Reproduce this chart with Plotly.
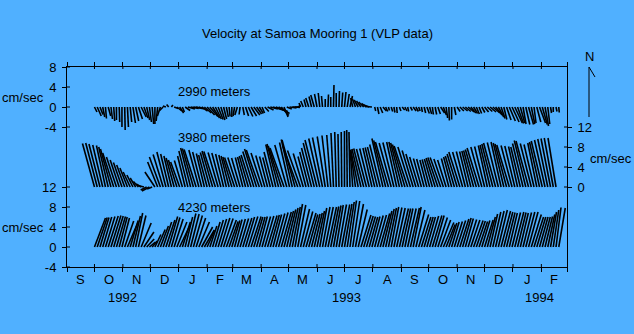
import plotly.graph_objects as go

# ---------------- data ----------------
# x axis in days since 1 Sep 1992; sticks every 3 days starting 1 Oct 1992
start_day = 30
step_days = 3

month_starts = [0, 30, 61, 91, 122, 153, 181, 212, 242, 273, 303, 334, 365, 395, 426, 456, 487, 518, 546]
month_mid = [15, 45.5, 76, 106.5, 137.5, 167, 196.5, 227, 257.5, 288, 318.5, 349.5, 380, 410.5, 441, 471.5, 502.5, 532]
month_labels = ["S", "O", "N", "D", "J", "F", "M", "A", "M", "J", "J", "A", "S", "O", "N", "D", "J", "F"]
year_labels = ["1992", "1993", "1994"]
year_pos = [61, 305.7, 516.5]

depth_labels = ["2990 meters", "3980 meters", "4230 meters"]

# 2990 m (east u, north v, cm/s)
u2990 = [0.5,0.8,0.6,0.4,0.2,0.5,0.3,0.2,0.0,0.1,
         0.0,0.1,0.2,0.3,0.5,0.6,0.8,1.0,0.8,0.6,
         0.4,0.3,0.0,-0.3,-0.6,-0.8,-0.6,-0.4,0.3,0.8,
         1.0,0.8,0.4,1.0,1.4,1.6,1.5,1.2,1.0,1.2,
         1.4,1.5,1.6,1.4,1.2,1.0,0.8,0.6,0.4,0.2,
         0.0,-0.3,-0.5,-0.2,0.3,0.6,0.9,1.1,1.2,1.0,
         0.8,0.5,0.8,1.2,1.5,2.0,2.4,2.2,1.5,0.8,
         1.0,1.4,1.5,1.0,0.6,-0.3,-0.5,-0.4,-0.6,-0.5,
         -0.7,-0.5,-0.3,-0.2,0.0,0.1,0.0,0.1,0.0,0.1,
         0.2,0.3,0.4,0.5,-0.4,-0.6,-0.8,-0.9,-1.0,-1.0,
         -1.1,-1.2,0.2,0.3,0.5,0.7,0.4,0.2,0.3,0.2,
         0.1,0.3,0.5,0.4,0.2,0.4,0.6,0.5,0.3,0.2,
         0.3,0.5,0.4,0.2,0.3,0.5,0.8,0.6,0.3,0.1,
         0.0,0.3,0.6,0.8,1.0,1.1,1.2,1.0,0.8,0.6,
         0.5,0.6,0.8,1.0,1.2,1.4,1.3,1.1,0.8,0.6,
         0.9,1.2,1.4,1.5,1.2,0.9,0.6,0.8,1.0,0.7,
         0.4,0.8,1.2,1.0,0.7,0.4,0.2,0.0,0.2,0.1]
v2990 = [-1.0,-1.8,-1.5,-2.0,-2.3,-1.8,-2.4,-2.8,-2.6,-3.0,
         -4.0,-4.6,-4.0,-3.0,-3.2,-2.8,-2.4,-2.0,-2.2,-2.6,
         -3.0,-3.4,-3.4,-2.8,-1.8,-0.8,0.2,0.5,0.4,-0.3,
         -0.8,-1.2,-1.0,-0.7,-0.4,-0.3,-0.2,-0.3,-0.4,-0.8,
         -1.2,-1.6,-1.9,-2.2,-2.4,-2.5,-2.6,-2.4,-2.0,-1.9,
         -2.0,-1.8,-1.6,-1.5,-1.6,-1.8,-1.9,-1.8,-1.6,-1.4,
         -1.3,-1.2,-0.9,-0.6,-0.4,-0.6,-0.9,-1.3,-1.7,-2.0,
         -0.4,-0.2,0.0,-0.1,0.3,0.8,1.2,1.5,1.8,2.1,
         2.4,2.6,2.8,2.2,1.6,2.5,2.0,4.4,2.8,3.2,
         2.9,3.0,2.6,2.2,1.8,1.6,1.4,1.2,1.0,0.7,
         0.4,0.1,-0.8,-1.4,-1.2,-0.8,-0.9,-0.7,-0.9,-1.1,
         -1.2,-0.8,-0.6,-0.8,-0.9,-0.7,-0.8,-0.9,-0.8,-1.0,
         -1.2,-1.3,-1.4,-1.5,-1.5,-1.4,-1.2,-1.6,-2.2,-2.7,
         -2.5,-1.6,-0.9,-0.8,-0.8,-0.9,-1.0,-1.2,-1.3,-1.4,
         -1.3,-1.1,-1.0,-0.9,-1.0,-1.2,-1.6,-2.0,-2.3,-2.5,
         -2.6,-2.8,-3.0,-3.2,-3.3,-3.2,-3.4,-3.5,-3.5,-3.4,
         -3.2,-3.0,-3.2,-3.5,-3.8,-3.4,-1.2,-1.0,-0.9,-1.1]

# 3980 m
u3980 = [-2.4,-2.3,-2.2,-2.0,-1.8,-1.9,-2.1,-2.2,-2.0,-1.8,
         -1.7,-1.6,-1.5,-1.4,-1.2,-1.1,-1.0,-1.0,-1.2,-1.2,
         -1.5,-1.0,-2.0,-2.0,-2.2,-2.0,-1.8,-1.6,-1.5,-1.6,
         -1.7,-1.8,-1.6,-1.5,-1.8,-2.0,-2.2,-2.4,-2.0,-1.8,
         -1.6,-1.7,-1.9,-2.1,-2.3,-2.0,-1.8,-1.6,-1.5,-1.6,
         -1.8,-2.0,-1.9,-1.7,-1.5,-1.6,-1.8,-2.0,-2.2,-2.4,
         -2.6,-2.2,-1.8,-1.6,-1.5,-1.8,-2.0,-2.3,-2.6,-2.8,
         -2.4,-2.0,-2.2,-2.6,-3.0,-2.6,-2.0,-1.6,-1.8,-2.0,
         -2.2,-2.4,-2.2,-2.0,-1.6,-1.2,-0.8,-0.5,-0.3,-0.2,
         -0.1,0.0,-0.1,-0.2,-0.5,-1.0,-1.5,-1.8,-2.0,-2.0,
         -1.9,-1.8,-1.9,-2.0,-2.1,-2.2,-2.4,-2.6,-2.4,-2.2,
         -2.0,-2.1,-2.3,-2.5,-2.7,-2.5,-2.2,-2.0,-1.8,-1.6,
         -1.5,-1.4,-1.5,-1.6,-1.8,-2.0,-2.1,-1.9,-1.7,-1.5,
         -1.6,-1.8,-2.0,-2.2,-2.0,-1.8,-1.7,-1.8,-2.0,-2.2,
         -2.4,-2.2,-2.0,-1.8,-2.0,-2.2,-2.4,-2.2,-2.0,-2.1,
         -2.3,-2.5,-2.2,-2.0,-1.8,-1.9,-2.1,-2.3,-2.5,-2.2,
         -2.0,-1.8,-2.0,-2.2,-2.1,-2.0,-1.9,-1.8,-1.6]
v3980 = [8.7,8.8,8.6,8.4,8.3,8.0,7.6,6.8,6.0,5.4,
         4.9,4.4,3.8,3.0,2.4,1.8,1.1,0.6,0.3,-0.6,
         -0.8,-0.4,3.0,5.0,6.0,6.5,7.0,6.6,6.2,5.8,
         5.4,5.0,5.3,6.2,7.2,7.8,7.7,7.5,7.4,7.0,
         6.7,6.4,6.9,7.2,7.1,6.9,6.8,6.6,6.4,6.2,
         6.0,5.9,5.9,5.8,5.9,6.0,6.2,6.4,7.1,7.6,
         7.4,6.8,6.3,6.1,5.9,7.0,8.5,8.6,8.2,7.8,
         8.4,8.9,9.5,9.4,8.2,7.3,6.7,6.1,7.0,7.8,
         8.8,9.4,9.7,9.9,10.1,10.3,10.4,10.8,11.0,10.6,
         11.0,11.2,11.4,11.0,7.2,7.4,7.5,7.6,7.7,7.6,
         7.7,7.8,7.9,8.0,8.5,9.7,9.3,9.0,8.8,8.9,
         9.0,9.0,8.8,8.5,8.2,8.0,7.3,6.6,6.0,5.7,
         5.6,5.4,5.5,5.6,5.8,5.9,5.9,5.6,5.4,5.7,
         6.0,6.2,6.6,7.0,7.0,7.1,7.1,7.2,7.3,7.5,
         7.8,8.0,8.1,8.3,8.4,8.6,8.8,8.9,9.0,8.8,
         8.6,8.4,8.3,8.2,8.1,8.0,8.7,9.3,9.2,8.7,
         8.5,8.8,9.0,9.2,9.4,9.6,9.7,9.8,9.8]

# 4230 m
u4230 = [2.2,2.0,1.8,1.8,1.9,2.0,2.0,1.9,1.8,1.6,
         1.5,1.8,2.0,1.6,1.5,1.4,1.5,2.0,2.0,1.5,
         1.2,1.0,1.2,1.5,1.6,1.7,1.8,1.8,1.7,1.8,
         2.0,2.0,1.6,1.5,1.6,1.7,1.8,1.9,2.1,2.2,
         2.0,1.5,1.4,1.5,1.6,1.7,1.8,1.9,2.0,1.8,
         1.6,1.5,1.6,1.7,1.8,1.8,1.9,2.0,1.8,1.7,
         1.6,1.7,1.8,1.9,1.8,1.7,1.8,1.9,2.0,1.9,
         1.8,1.7,1.6,1.5,1.6,1.8,1.9,2.0,1.8,1.7,
         1.6,1.5,1.4,1.5,1.6,1.7,1.6,1.5,1.4,1.5,
         1.6,1.5,1.4,1.3,1.4,1.6,1.8,2.0,1.9,1.8,
         1.7,1.6,1.7,1.8,1.9,1.8,1.7,1.6,1.5,1.6,
         1.7,1.8,1.7,1.6,1.7,1.8,1.6,1.8,2.0,1.9,
         1.8,1.7,1.8,1.9,1.8,1.9,2.0,2.1,1.8,1.6,
         1.5,1.6,1.7,1.8,1.7,1.6,1.7,1.8,1.9,1.8,
         1.7,1.6,1.7,1.6,1.5,1.6,1.7,1.8,1.9,1.8,
         1.7,1.6,1.7,1.8,1.7,1.6,1.7,1.8,1.9,2.0,
         1.9,1.8,1.7,1.6,1.5,1.4,1.2,1.1,1.0,1.3]
v4230 = [5.8,5.9,5.9,6.0,6.1,6.2,6.3,6.2,6.1,6.0,
         5.8,5.2,4.7,5.3,6.2,6.8,6.3,4.8,3.0,1.6,
         1.0,1.2,2.5,3.5,4.2,5.0,5.4,6.1,5.9,5.6,
         5.0,4.2,5.0,6.0,6.7,6.6,6.3,5.8,5.0,4.0,
         3.4,3.3,4.2,5.0,5.4,5.6,5.8,5.7,5.4,5.1,
         5.3,5.5,5.6,5.7,5.8,6.0,6.1,6.1,6.0,6.0,
         6.1,6.1,6.2,6.3,6.4,6.5,6.7,6.9,7.0,7.2,
         7.5,7.8,8.0,8.6,8.4,7.6,7.1,6.8,6.5,6.6,
         6.8,7.2,7.8,8.0,8.0,8.0,8.1,8.3,8.4,8.5,
         8.5,8.6,9.0,9.3,9.2,8.6,7.5,6.4,6.2,6.1,
         6.0,6.1,6.3,6.4,6.7,7.2,7.6,7.8,8.0,7.9,
         7.8,7.7,7.7,7.7,7.7,7.8,8.0,7.4,6.5,6.0,
         6.0,6.0,6.2,6.3,6.3,5.9,5.4,4.9,4.5,4.8,
         5.0,5.1,5.3,5.6,5.8,5.7,5.5,5.4,5.3,5.2,
         5.1,5.3,5.4,6.0,6.6,7.0,7.2,7.4,7.2,7.0,
         6.9,6.8,6.9,7.0,6.9,6.8,6.9,7.0,7.0,6.5,
         6.0,6.0,6.0,6.0,6.1,6.5,7.0,7.4,7.9,7.8]

# ---------------- geometry ----------------
BG = "#50B0FF"
W, H = 634, 334
ML, MR, MT, MB = 67, 67, 67, 67
PW, PH = W - ML - MR, H - MT - MB
X_RANGE = [0, 546]
Y_RANGE = [-4, 36]
# panel baselines in the shared y coordinate (cm/s)
base_2990, base_3980, base_4230 = 28, 12, 0
px_per_day = PW / (X_RANGE[1] - X_RANGE[0])
px_per_unit = PH / (Y_RANGE[1] - Y_RANGE[0])
days_per_unit = px_per_unit / px_per_day  # keep vectors isotropic on screen


def sticks(u, v, y0):
    xs, ys = [], []
    for i, (uu, vv) in enumerate(zip(u, v)):
        d = start_day + step_days * i
        xs += [d, d + uu * days_per_unit, None]
        ys += [y0, y0 + vv, None]
    return xs, ys


fig = go.Figure()
for u, v, b in [(u2990, v2990, base_2990), (u3980, v3980, base_3980), (u4230, v4230, base_4230)]:
    xs, ys = sticks(u, v, b)
    fig.add_trace(go.Scatter(x=xs, y=ys, mode="lines", line=dict(color="black", width=1.6),
                             hoverinfo="skip", showlegend=False))
fig.add_trace(go.Scatter(x=[None], y=[None], yaxis="y2", showlegend=False))

left_vals = [36, 32, 28, 24, 12, 8, 4, 0, -4]
left_text = ["8", "4", "0", "-4", "12", "8", "4", "0", "-4"]
right_vals = [24, 20, 16, 12]
right_text = ["12", "8", "4", "0"]

FONT = "Liberation Sans, Arial, sans-serif"

fig.update_layout(
    width=W, height=H, margin=dict(l=ML, r=MR, t=MT, b=MB),
    paper_bgcolor=BG, plot_bgcolor=BG, showlegend=False,
    font=dict(family=FONT, size=13, color="black"),
    xaxis=dict(range=X_RANGE, showgrid=False, zeroline=False, showline=True, mirror="allticks",
               linecolor="black", linewidth=1, tickvals=month_starts, ticks="outside", ticklen=4,
               tickcolor="black", tickwidth=1, showticklabels=False, fixedrange=True),
    yaxis=dict(range=Y_RANGE, showgrid=False, zeroline=False, showline=True, mirror=True,
               linecolor="black", linewidth=1, tickvals=left_vals, ticktext=left_text,
               ticks="outside", ticklen=4, tickcolor="black", tickwidth=1,
               ticklabelstandoff=3, fixedrange=True),
    yaxis2=dict(range=Y_RANGE, overlaying="y", side="right", showgrid=False, zeroline=False,
                showline=False, tickvals=right_vals, ticktext=right_text, ticks="outside",
                ticklen=4, tickcolor="black", tickwidth=1, ticklabelstandoff=3, fixedrange=True),
)

shapes = []
for d in month_starts[1:-1]:
    shapes.append(dict(type="line", xref="x", yref="paper", x0=d, x1=d, y0=0, y1=3 / PH,
                       line=dict(color="black", width=1)))
    shapes.append(dict(type="line", xref="x", yref="paper", x0=d, x1=d, y0=1 - 2 / PH, y1=1,
                       line=dict(color="black", width=1)))
for yv in left_vals:
    shapes.append(dict(type="line", xref="paper", yref="y", x0=0, x1=3 / PW, y0=yv, y1=yv,
                       line=dict(color="black", width=1)))
for yv in right_vals:
    shapes.append(dict(type="line", xref="paper", yref="y", x0=1 - 3 / PW, x1=1, y0=yv, y1=yv,
                       line=dict(color="black", width=1)))
# north arrow
nx = (589 - ML) / PW
shapes.append(dict(type="line", xref="paper", yref="paper", x0=nx, x1=nx,
                   y0=(H - MB - 117) / PH, y1=(H - MB - 67) / PH, line=dict(color="black", width=1)))
shapes.append(dict(type="line", xref="paper", yref="paper", x0=nx, x1=(595 - ML) / PW,
                   y0=(H - MB - 67) / PH, y1=(H - MB - 77) / PH, line=dict(color="black", width=1)))
fig.update_layout(shapes=shapes)

ann = []
for m, lab in zip(month_mid, month_labels):
    ann.append(dict(x=m, y=(H - MB - 279) / PH, xref="x", yref="paper", text=lab, showarrow=False,
                    xanchor="center", yanchor="middle"))
for p, lab in zip(year_pos, year_labels):
    ann.append(dict(x=p, y=(H - MB - 297) / PH, xref="x", yref="paper", text=lab, showarrow=False,
                    xanchor="center", yanchor="middle"))
for lab, yv in zip(depth_labels, [31.2, 22.0, 8.0]):
    ann.append(dict(x=(214 - ML) / px_per_day, y=yv, xref="x", yref="y", text=lab, showarrow=False,
                    xanchor="center", yanchor="middle"))
for yy in [97, 227]:
    ann.append(dict(x=(23 - ML) / PW, y=(H - MB - yy) / PH, xref="paper", yref="paper", text="cm/sec",
                    showarrow=False, xanchor="center", yanchor="middle"))
ann.append(dict(x=(611 - ML) / PW, y=(H - MB - 158) / PH, xref="paper", yref="paper", text="cm/sec",
                showarrow=False, xanchor="center", yanchor="middle"))
ann.append(dict(x=(589 - ML) / PW, y=(H - MB - 56) / PH, xref="paper", yref="paper", text="N",
                showarrow=False, xanchor="center", yanchor="middle"))
ann.append(dict(x=(317 - ML) / PW, y=(H - MB - 33) / PH, xref="paper", yref="paper",
                text="Velocity at Samoa Mooring 1 (VLP data)", showarrow=False,
                xanchor="center", yanchor="middle"))
fig.update_layout(annotations=ann)

fig.write_html("out.html")
